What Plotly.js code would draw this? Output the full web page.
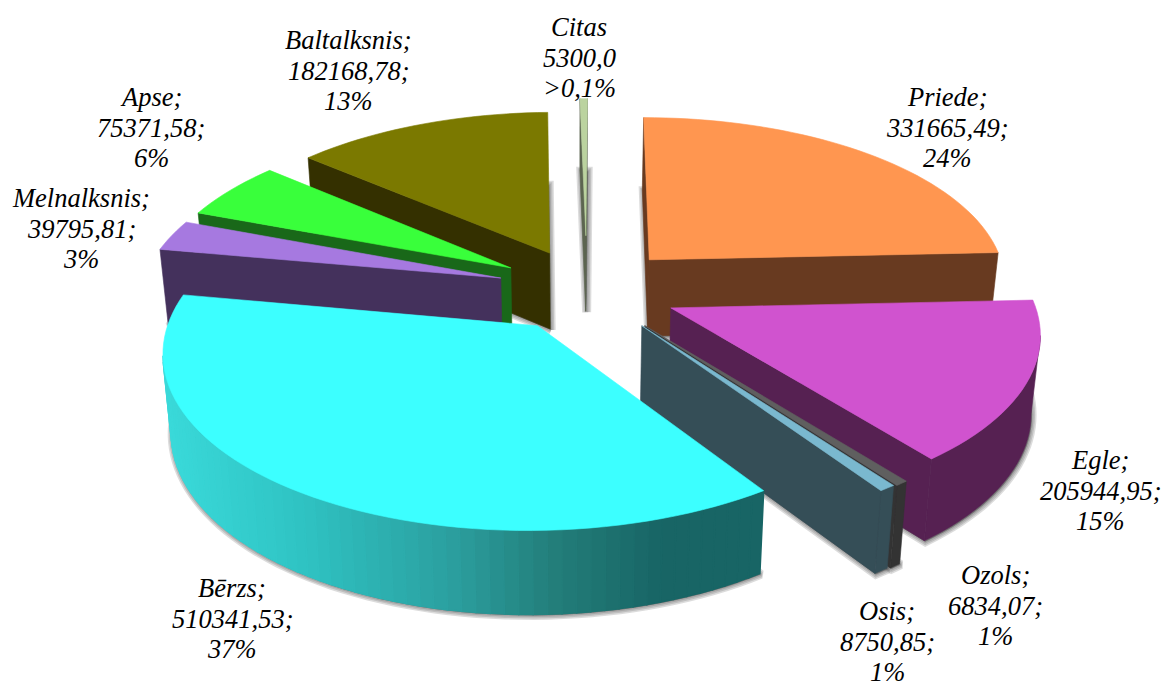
<!DOCTYPE html>
<html>
<head>
<meta charset="utf-8">
<script src="https://cdn.plot.ly/plotly-3.0.1.min.js"></script>
<style>html,body{margin:0;padding:0;background:#fff;overflow:hidden}#chart{width:1164px;height:682px}</style>
</head>
<body>
<div id="chart"></div>
<script>
// ----- data, clockwise from twelve o'clock -----
const species = ['Priede','Egle','Ozols','Osis','Bērzs','Melnalksnis','Apse','Baltalksnis','Citas'];
const volumes = [331665.49,205944.95,6834.07,8750.85,510341.53,39795.81,75371.58,182168.78,5300.0];
const volumeLabels = ['331665,49;','205944,95;','6834,07;','8750,85;','510341,53;','39795,81;','75371,58;','182168,78;','5300,0'];
const shareLabels = ['24%','15%','1%','1%','37%','3%','6%','13%','>0,1%'];
const nameSuffix = [';',';',';',';',';',';',';',';',''];

// ----- styles -----
const topColors  = ['#ff9650','#d053cf','#5f5f5f','#7ab8cf','#3cffff','#a679e0','#39ff3b','#7b7900','#bbd39f'];
const wallColors = ['#683a20','#562152','#333333','#354e57','#176666','#44315c','#196819','#343000','#5c6550'];
const explodeU = [0.140,0.194,0.121,0.113,-0.169,-0.278,-0.252,-0.144,-0.041];
const explodeV = [0.184,-0.105,-0.207,-0.207,-0.207,0.072,0.134,0.226,0.337];
const paintOrder = [8,7,0,6,5,1,2,3,4];
const labelCentreX = [947,1100,995,887,232,81,151,348,579];
const labelFirstY  = [97,460,575,611,588,198,97,40,27];
const labelLineGap = 30.5;
const birchStops = [[160,[58,218,218]],[300,[47,195,195]],[450,[43,159,159]],[550,[35,127,123]],[660,[24,101,101]],[770,[24,101,101]]];

// ----- view geometry -----
const cx=600, cy=290, W=360, H=168, k=0.13, depthBase=40, depthScale=37, vanishX=575, floorShrink=0.98;
const proj=(u,v)=>{const w=1/(1+k*v);return {x:cx+W*u*w,y:cy-H*v*w,w};};
const drop=p=>({x:vanishX+(p.x-vanishX)*floorShrink,y:p.y+depthBase+depthScale*p.w});

const total=volumes.reduce((a,b)=>a+b,0);
let run=0;
const slices=volumes.map((val,i)=>{
  const a0=run/total*2*Math.PI; run+=val; const a1=run/total*2*Math.PI;
  const n=Math.max(2,Math.ceil((a1-a0)/(Math.PI/90)));
  const arc=[];
  for(let j=0;j<=n;j++){const a=a0+(a1-a0)*j/n;arc.push(proj(explodeU[i]+Math.sin(a),explodeV[i]+Math.cos(a)));}
  return {apex:proj(explodeU[i],explodeV[i]),arc,i};
});

const traces=[];
const poly=(pts,fill,lineW,lineColor)=>traces.push({
  type:'scatter',mode:'lines',x:pts.map(p=>p.x),y:pts.map(p=>p.y),fill:'toself',fillcolor:fill,
  line:{color:lineColor||fill,width:lineW===undefined?0.6:lineW,simplify:false},hoverinfo:'skip',showlegend:false});

// soft shadows: the floor print of every slice
slices.forEach(s=>{
  const pts=[s.apex,...s.arc,s.apex].map(drop).map(p=>({x:p.x+1,y:p.y+1}));
  [9,6,3].forEach(wd=>poly(pts,'rgba(50,50,50,0.17)',wd,'rgba(50,50,50,0.17)'));
});

const birchColor=x=>{
  for(let q=0;q<birchStops.length-1;q++){
    const [x0,c0]=birchStops[q],[x1,c1]=birchStops[q+1];
    if(x<=x1){const t=Math.max(0,(x-x0)/(x1-x0));return 'rgb('+c0.map((c,m)=>Math.round(c+(c1[m]-c)*t)).join(',')+')';}
  }
  return 'rgb('+birchStops[birchStops.length-1][1].join(',')+')';
};
const wall=(run,color,lw)=>{ if(run.length>1) poly([...run,...run.slice().reverse().map(drop),run[0]],color,lw); };

paintOrder.forEach(idx=>{
  const s=slices[idx], col=wallColors[idx], isBirch=species[idx]==='Bērzs';
  const outline=[[s.apex,s.arc[0]],s.arc,[s.arc[s.arc.length-1],s.apex]];
  outline.forEach((group,g)=>{
    let cur=[];
    for(let j=0;j<group.length-1;j++){
      if(group[j+1].x<group[j].x){
        if(isBirch&&g===1){
          const mid=(group[j].x+group[j+1].x)/2;
          wall([group[j],group[j+1]],birchColor(mid),1.6);
        } else {
          if(!cur.length)cur.push(group[j]);
          cur.push(group[j+1]);
        }
      } else { wall(cur,col); cur=[]; }
    }
    wall(cur,col);
  });
  poly([s.apex,...s.arc,s.apex],topColors[idx]);
});

const annotations=[];
species.forEach((name,i)=>{
  [name+nameSuffix[i],volumeLabels[i],shareLabels[i]].forEach((line,j)=>{
    annotations.push({text:line,x:labelCentreX[i],y:labelFirstY[i]+j*labelLineGap,xref:'x',yref:'y',showarrow:false,
      xanchor:'center',yanchor:'middle',font:{family:'"Liberation Serif",serif',size:26.5,style:'italic',color:'#000'}});
  });
});

Plotly.newPlot('chart',traces,{
  width:1164,height:682,margin:{l:0,r:0,t:0,b:0},paper_bgcolor:'#fff',plot_bgcolor:'#fff',showlegend:false,
  xaxis:{range:[0,1164],visible:false,fixedrange:true},
  yaxis:{range:[682,0],visible:false,fixedrange:true},
  annotations
},{displayModeBar:false,staticPlot:true});
</script>
</body>
</html>
